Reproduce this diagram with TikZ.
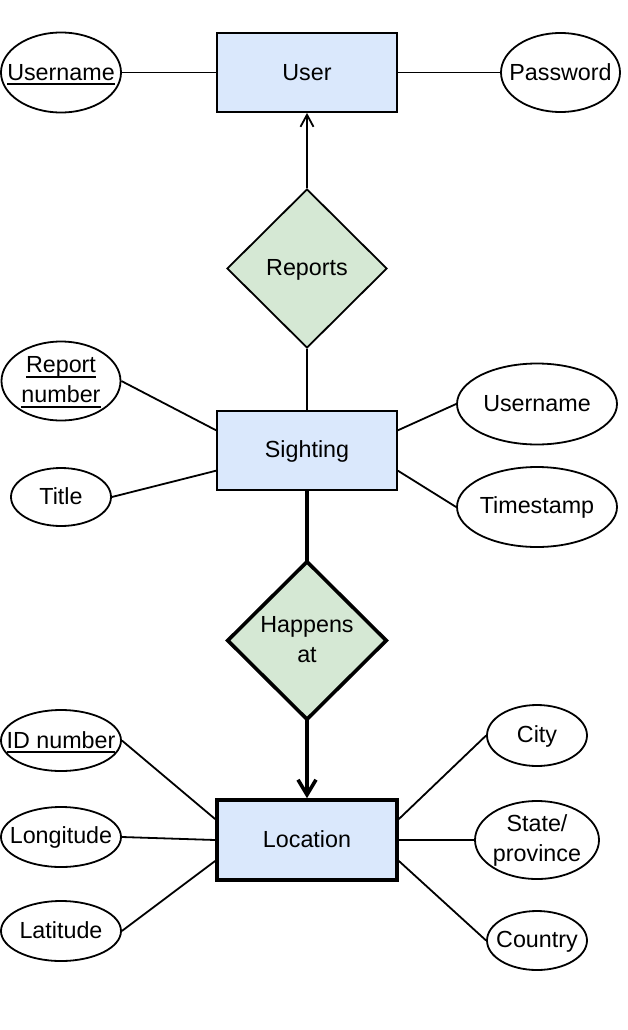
\documentclass[tikz,border=0pt]{standalone}
\usepackage{fontspec}
\setmainfont{Liberation Sans}
\usetikzlibrary{shapes.geometric,arrows.meta,calc}
\definecolor{entfill}{HTML}{DAE8FC}
\definecolor{relfill}{HTML}{D5E8D4}
\newcommand\ulx[1]{\setbox0=\hbox{#1}\rlap{\smash{\rule[-4.6pt]{\wd0}{1.8pt}}}\box0}
\newcommand\lstrut{\rule[-2.2pt]{0pt}{20.2pt}}
\begin{document}
\begin{tikzpicture}[x=1pt,y=-1pt,
  ln/.style={line width=1.8pt},
  thk/.style={line width=3.6pt},
  txt/.style={font=\fontsize{23.3pt}{30pt}\selectfont, align=center, inner sep=0pt,
    execute at begin node=\lstrut, execute at end node=\lstrut},
  entity/.style={draw, ln, fill=entfill, minimum width=180pt, minimum height=79pt, inner sep=0pt, txt},
  rel/.style={draw, diamond, ln, fill=relfill, minimum width=160pt, minimum height=159pt, inner sep=0pt, txt},
  attr/.style={draw, ellipse, ln, fill=white, inner sep=0pt},
  tip/.style={-{Straight Barb[length=12pt,width=13pt]}},
  bigtip/.style={-{Straight Barb[length=15pt,width=18pt]}}
]
\useasboundingbox (0,0) rectangle (628,1030);

% top
\node[entity] (user) at (307,72.5) {User};
\node[attr, minimum width=120pt, minimum height=80pt, label={[txt]center:\ulx{Username}}] (uu) at (61,72.5) {};
\node[attr, minimum width=119pt, minimum height=79pt, label={[txt]center:Password}] (pw) at (560.5,72.5) {};
\node[rel] (rep) at (307,268.5) {Reports};

% sighting
\node[entity] (sig) at (307,450.5) {Sighting};
\node[attr, minimum width=119pt, minimum height=79pt, label={[txt]center:{\ulx{Report}\\\ulx{number}}}] (rn) at (61,381) {};
\node[attr, minimum width=100pt, minimum height=58pt, label={[txt]center:Title}] (ti) at (61,497) {};
\node[attr, minimum width=160pt, minimum height=81pt, label={[txt]center:Username}] (un) at (537,404) {};
\node[attr, minimum width=160pt, minimum height=80pt, label={[txt]center:Timestamp}] (ts) at (537,507) {};

\node[rel, thk] (hap) at (307,640.5) {Happens\\at};

% location
\node[entity, thk, minimum height=80pt] (loc) at (307,840) {Location};
\node[attr, minimum width=120pt, minimum height=61pt, label={[txt]center:\ulx{ID number}}] (id) at (61,740.5) {};
\node[attr, minimum width=120pt, minimum height=60pt, label={[txt]center:Longitude}] (lon) at (61,837) {};
\node[attr, minimum width=120pt, minimum height=60pt, label={[txt]center:Latitude}] (lat) at (61,931) {};
\node[attr, minimum width=100pt, minimum height=61pt, label={[txt]center:City}] (city) at (537,735.5) {};
\node[attr, minimum width=124pt, minimum height=78pt, label={[txt]center:{State/\\province}}] (st) at (537,840) {};
\node[attr, minimum width=100pt, minimum height=59pt, label={[txt]center:Country}] (co) at (537,940.5) {};

% connectors
\draw[ln] (uu) -- (user);
\draw[ln] (user) -- (pw);
\draw[ln, tip] (rep) -- (user);
\draw[ln] (rep) -- (sig);
\draw[ln] (rn.east) -- ($(sig.north west)!0.25!(sig.south west)$);
\draw[ln] (ti.east) -- ($(sig.north west)!0.75!(sig.south west)$);
\draw[ln] (un.west) -- ($(sig.north east)!0.25!(sig.south east)$);
\draw[ln] (ts.west) -- ($(sig.north east)!0.75!(sig.south east)$);
\draw[thk, shorten >=-3pt] (sig) -- (hap);
\draw[thk, bigtip, shorten <=-3pt] (hap) -- (loc);
\draw[ln] (id.east) -- ($(loc.north west)!0.25!(loc.south west)$);
\draw[ln] (lon.east) -- (loc.west);
\draw[ln] (lat.east) -- ($(loc.north west)!0.75!(loc.south west)$);
\draw[ln] (city.west) -- ($(loc.north east)!0.25!(loc.south east)$);
\draw[ln] (st.west) -- (loc.east);
\draw[ln] (co.west) -- ($(loc.north east)!0.75!(loc.south east)$);
\end{tikzpicture}
\end{document}
